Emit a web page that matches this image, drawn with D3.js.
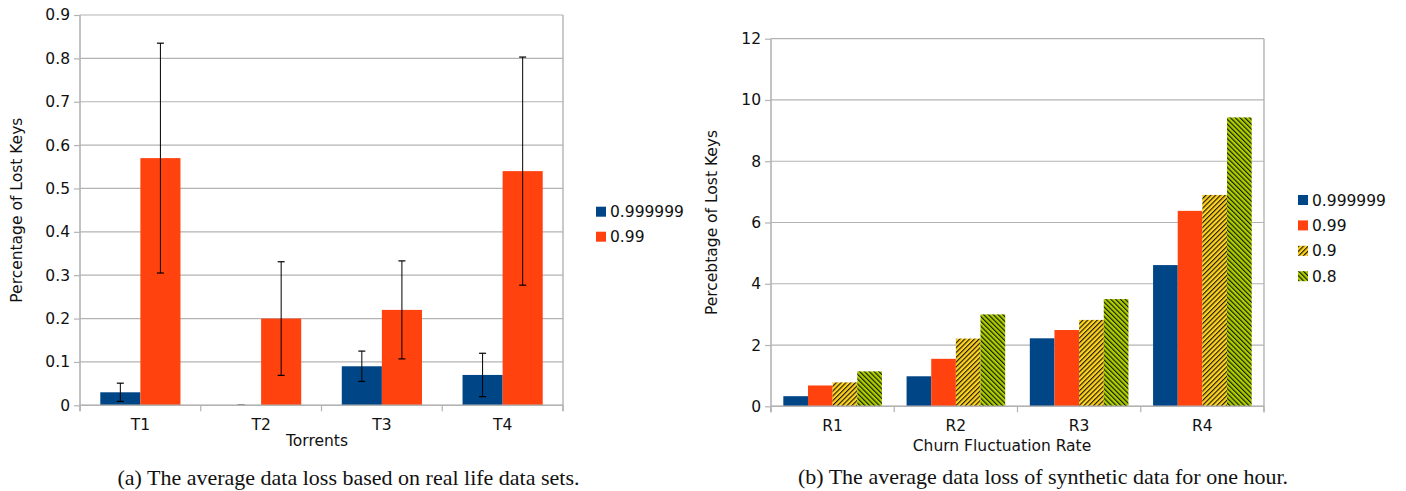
<!DOCTYPE html>
<html>
<head>
<meta charset="utf-8">
<script src="https://cdn.jsdelivr.net/npm/d3@7"></script>
<style>
  body { margin: 0; background: #fff; }
  svg { display: block; }
  .tick text, .lbl { font-family: "DejaVu Sans", sans-serif; font-size: 15.5px; fill: #111; }
  .cap { font-family: "Liberation Serif", "Times New Roman", serif; font-size: 22px; fill: #111; }
</style>
</head>
<body>
<svg width="1406" height="491"></svg>
<script>
// ---- data (a) ----
const torrents = ["T1", "T2", "T3", "T4"];
const seriesA = ["0.999999", "0.99"];
const lossA = [
  [0.03, 0.57],
  [0.0, 0.20],
  [0.09, 0.22],
  [0.07, 0.54]
];
const errA = [
  [0.021, 0.265],
  [0.0, 0.131],
  [0.035, 0.113],
  [0.05, 0.263]
];
const ticksA = [0, 0.1, 0.2, 0.3, 0.4, 0.5, 0.6, 0.7, 0.8, 0.9];

// ---- data (b) ----
const rates = ["R1", "R2", "R3", "R4"];
const seriesB = ["0.999999", "0.99", "0.9", "0.8"];
const lossB = [
  [0.33, 0.68, 0.78, 1.14],
  [0.98, 1.55, 2.21, 3.0],
  [2.22, 2.49, 2.82, 3.50],
  [4.61, 6.38, 6.9, 9.43]
];
const ticksB = [0, 2, 4, 6, 8, 10, 12];

const colors = ["#004586", "#ff420e", "#ffd320", "#aecf00"];
const gridCol = "#b3b3b3";

const svg = d3.select("svg");

// hatch patterns
const defs = svg.append("defs");
function hatch(id, color, angle) {
  const p = defs.append("pattern")
    .attr("id", id)
    .attr("patternUnits", "userSpaceOnUse")
    .attr("width", 3.4).attr("height", 3.4)
    .attr("patternTransform", `rotate(${angle})`);
  p.append("rect").attr("width", 3.4).attr("height", 3.4).attr("fill", color);
  p.append("line").attr("x1", 0.6).attr("y1", 0).attr("x2", 0.6).attr("y2", 3.4)
    .attr("stroke", "#000").attr("stroke-width", 1);
}
hatch("hatchY", colors[2], 45);
hatch("hatchG", colors[3], -45);
const fills = [colors[0], colors[1], "url(#hatchY)", "url(#hatchG)"];

function panel(opt) {
  const g = svg.append("g");
  const x0 = d3.scaleBand().domain(opt.cats).range(opt.xr);
  const bw = x0.bandwidth();
  const x1 = d3.scaleBand().domain(opt.series).range([bw * opt.gap, bw * (1 - opt.gap)]);
  const y = d3.scaleLinear().domain(opt.ydom).range(opt.yr);

  // grid
  g.append("g").selectAll("line").data(opt.ticks).join("line")
    .attr("x1", opt.xr[0]).attr("x2", opt.xr[1])
    .attr("y1", d => y(d)).attr("y2", d => y(d))
    .attr("stroke", gridCol).attr("stroke-width", 1.2);

  // right border
  g.append("line").attr("x1", opt.xr[1]).attr("x2", opt.xr[1])
    .attr("y1", opt.yr[1]).attr("y2", opt.yr[0] + 6)
    .attr("stroke", gridCol).attr("stroke-width", 1.4);

  // bars
  const grp = g.append("g").selectAll("g").data(opt.values).join("g")
    .attr("transform", (d, i) => `translate(${x0(opt.cats[i])},0)`);
  grp.selectAll("rect").data(d => d).join("rect")
    .attr("x", (d, j) => x1(opt.series[j]))
    .attr("width", x1.bandwidth())
    .attr("y", d => y(d))
    .attr("height", d => y(0) - y(d))
    .attr("fill", (d, j) => fills[j]);

  // error bars
  if (opt.err) {
    grp.each(function (row, i) {
      const eg = d3.select(this);
      row.forEach((v, j) => {
        const e = opt.err[i][j];
        const cx = x1(opt.series[j]) + x1.bandwidth() / 2;
        eg.append("line").attr("x1", cx).attr("x2", cx)
          .attr("y1", y(v + e)).attr("y2", y(v - e))
          .attr("stroke", "#000").attr("stroke-width", 1);
        [v + e, v - e].forEach(t => {
          eg.append("line").attr("x1", cx - 3.5).attr("x2", cx + 3.5)
            .attr("y1", y(t)).attr("y2", y(t))
            .attr("stroke", "#000").attr("stroke-width", 1.2);
        });
      });
    });
  }

  // y axis
  const ya = g.append("g").attr("transform", `translate(${opt.xr[0]},0)`)
    .call(d3.axisLeft(y).tickValues(opt.ticks).tickSize(6).tickPadding(4)
      .tickFormat(opt.fmt));
  ya.select(".domain").attr("stroke", gridCol).attr("stroke-width", 1.6)
    .attr("d", `M0,${opt.yr[1]}V${opt.yr[0] + 6}`);
  ya.selectAll(".tick line").attr("stroke", gridCol).attr("stroke-width", 1.2);

  // x axis
  const xa = g.append("g").attr("transform", `translate(0,${opt.yr[0]})`)
    .call(d3.axisBottom(x0).tickSize(0).tickPadding(opt.xpad));
  xa.select(".domain").attr("stroke", gridCol).attr("stroke-width", 1.4)
    .attr("d", `M${opt.xr[0]},0H${opt.xr[1]}`);
  const bounds = opt.cats.map(c => x0(c)).concat([opt.xr[1]]);
  xa.append("g").selectAll("line").data(bounds).join("line")
    .attr("x1", d => d).attr("x2", d => d).attr("y1", 0).attr("y2", 6)
    .attr("stroke", gridCol).attr("stroke-width", 1.2);

  // titles
  g.append("text").attr("class", "lbl")
    .attr("transform", `translate(${opt.ylx},${(opt.yr[0] + opt.yr[1]) / 2}) rotate(-90)`)
    .attr("text-anchor", "middle").attr("dy", "0.35em").text(opt.ytitle);
  g.append("text").attr("class", "lbl")
    .attr("x", opt.xt[0]).attr("y", opt.xt[1]).attr("text-anchor", "middle")
    .attr("dy", "0.35em").text(opt.xtitle);

  // legend
  const lg = g.append("g").selectAll("g").data(opt.series).join("g")
    .attr("transform", (d, j) => `translate(${opt.leg[0]},${opt.leg[1] + j * opt.leg[2]})`);
  lg.append("rect").attr("x", 0).attr("y", -5).attr("width", 10).attr("height", 10)
    .attr("fill", (d, j) => fills[j]);
  lg.append("text").attr("class", "lbl").attr("x", 14).attr("dy", "0.36em").text(d => d);

  // caption
  g.append("text").attr("class", "cap").attr("x", opt.cap[0]).attr("y", opt.cap[1])
    .attr("text-anchor", "middle").text(opt.caption);
}

panel({
  cats: torrents, series: seriesA, values: lossA, err: errA,
  xr: [80, 563], yr: [405.3, 15], ydom: [0, 0.9], ticks: ticksA, gap: 0.168,
  fmt: d => d === 0 ? "0" : d3.format(".1f")(d), xpad: 14,
  ytitle: "Percentage of Lost Keys", ylx: 17,
  xtitle: "Torrents", xt: [317, 441],
  leg: [596, 211.7, 25],
  caption: "(a) The average data loss based on real life data sets.", cap: [348.5, 485]
});

panel({
  cats: rates, series: seriesB, values: lossB,
  xr: [771, 1264], yr: [406.3, 38.7], ydom: [0, 12], ticks: ticksB, gap: 0.1,
  fmt: d3.format("d"), xpad: 14,
  ytitle: "Percebtage of Lost Keys", ylx: 712,
  xtitle: "Churn Fluctuation Rate", xt: [1002, 446],
  leg: [1298, 200, 25.4],
  caption: "(b) The average data loss of synthetic data for one hour.", cap: [1043, 484]
});
</script>
</body>
</html>
